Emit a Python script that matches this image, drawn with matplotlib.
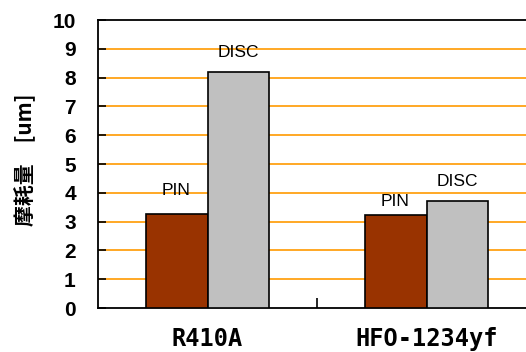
import numpy as np
import matplotlib.pyplot as plt

categories = ["R410A", "HFO-1234yf"]
pin = [3.27, 3.22]
disc = [8.2, 3.7]
series_names = ["PIN", "DISC"]
yticks = list(range(0, 11))

# manual label offsets above bar tops (points)
pin_off = [17, 10]
disc_off = [14, 14]

fig = plt.figure(figsize=(5.26, 3.52), dpi=100)
ax = fig.add_axes([98/526, 44/352, 438/526, 288/352])

x = np.arange(len(categories))
w = 0.283
b1 = ax.bar(x - w/2, pin, w, color="#993300", edgecolor="black", linewidth=1.2, zorder=3)
b2 = ax.bar(x + w/2, disc, w, color="#C0C0C0", edgecolor="black", linewidth=1.2, zorder=3)

for bars, vals, offs, name in [(b1, pin, pin_off, series_names[0]), (b2, disc, disc_off, series_names[1])]:
    for rect, v, o in zip(bars, vals, offs):
        ax.annotate(name, (rect.get_x() + rect.get_width()/2, v), xytext=(0, o),
                    textcoords="offset points", ha="center", va="center",
                    fontsize=12.5, family="Liberation Sans", zorder=4)

ax.set_xlim(-0.5, 1.5)
ax.set_ylim(0, 10)
ax.set_yticks(yticks)
ax.set_yticklabels([str(t) for t in yticks], fontsize=15, fontweight="bold", family="Liberation Sans")
ax.tick_params(axis="y", direction="in", length=6, width=1.2, pad=16)
for t in yticks[1:-1]:
    ax.axhline(t, color="#FF9900", linewidth=1.2, zorder=1)

ax.set_xticks(x)
ax.set_xticklabels(categories, fontsize=17, fontweight="bold", family="DejaVu Sans Mono")
ax.tick_params(axis="x", which="major", length=0, pad=14)
ax.set_xticks([0.5], minor=True)
ax.tick_params(axis="x", which="minor", direction="in", length=7, width=1.2)

for s in ax.spines.values():
    s.set_linewidth(1.3)
    s.set_color("black")
ax.spines["right"].set_visible(False)

fig.text(25/526, 1 - 160/352, "摩耗量　[um]", rotation=90, ha="center", va="center",
         fontsize=15, fontweight="bold", family=["Noto Sans CJK JP", "DejaVu Sans"])

fig.savefig("out.png", dpi=100)
